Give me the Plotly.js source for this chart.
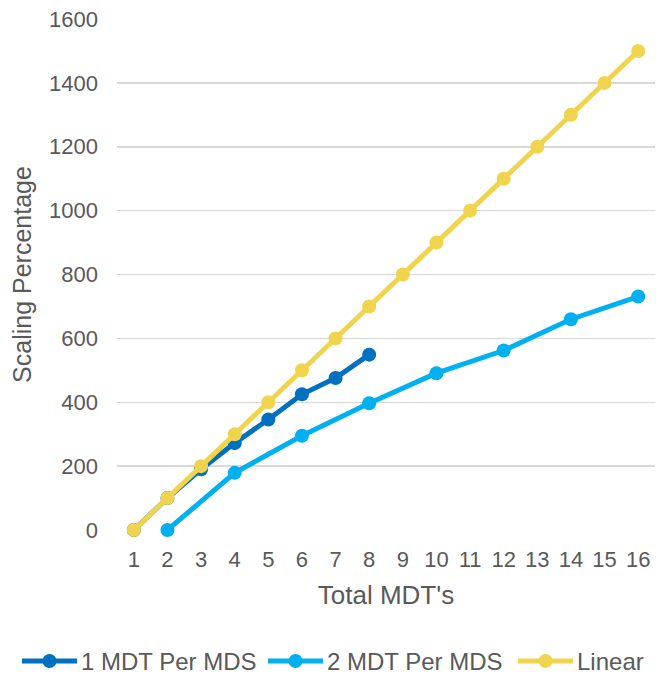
<!DOCTYPE html>
<html>
<head>
<meta charset="utf-8">
<script src="https://cdn.plot.ly/plotly-3.0.1.min.js"></script>
<style>
  html, body { margin: 0; padding: 0; background: #fff; }
  #chart { width: 659px; height: 675px; }
</style>
</head>
<body>
<div id="chart"></div>
<script>
// Total MDT counts on the x axis
const totalMdts = [1, 2, 3, 4, 5, 6, 7, 8, 9, 10, 11, 12, 13, 14, 15, 16];

// 1 MDT per MDS (measured up to 8 MDTs)
const oneMdtX = [1, 2, 3, 4, 5, 6, 7, 8];
const oneMdtY = [0, 100, 190, 272, 346, 425, 476, 549];

// 2 MDT per MDS (even MDT counts only)
const twoMdtX = [2, 4, 6, 8, 10, 12, 14, 16];
const twoMdtY = [0, 179, 295, 397, 491, 562, 660, 731];

// Ideal linear scaling
const linearY = [0, 100, 200, 300, 400, 500, 600, 700, 800, 900, 1000, 1100, 1200, 1300, 1400, 1500];

const yTicks = [0, 200, 400, 600, 800, 1000, 1200, 1400, 1600];

const seriesNames = ['1 MDT Per MDS', '2 MDT Per MDS', 'Linear'];
const seriesColors = ['#0070C0', '#00B0F0', '#F1D44E'];

const textColor = '#595959';
const font = 'Liberation Sans, Arial, sans-serif';

// Plot area in pixels (fixed margins)
const W = 659, H = 675;
const M = { l: 117, r: 4, t: 19, b: 145 };
const plotW = W - M.l - M.r;
const plotH = H - M.t - M.b;
const toPaperX = px => (px - M.l) / plotW;
const toPaperY = py => (H - M.b - py) / plotH;

function series(name, x, y, color) {
  return {
    type: 'scatter',
    mode: 'lines+markers',
    name: name,
    x: x,
    y: y,
    line: { color: color, width: 5 },
    marker: { color: color, size: 14 },
    cliponaxis: false,
    showlegend: false
  };
}

const data = [
  series(seriesNames[0], oneMdtX, oneMdtY, seriesColors[0]),
  series(seriesNames[1], twoMdtX, twoMdtY, seriesColors[1]),
  series(seriesNames[2], totalMdts, linearY, seriesColors[2])
];

// Legend row below the axis title: a line swatch with a dot, then the label
const legendY = toPaperY(661);
const legendStarts = [22, 268, 518];
const swatchLen = 55;
const shapes = [];
const annotations = [];
legendStarts.forEach((px, i) => {
  const c = seriesColors[i];
  shapes.push({
    type: 'line', xref: 'paper', yref: 'paper',
    x0: toPaperX(px), x1: toPaperX(px + swatchLen), y0: legendY, y1: legendY,
    line: { color: c, width: 5 }
  });
  shapes.push({
    type: 'circle', xref: 'paper', yref: 'paper',
    xsizemode: 'pixel', ysizemode: 'pixel',
    xanchor: toPaperX(px + swatchLen / 2), yanchor: legendY,
    x0: -7, x1: 7, y0: -7, y1: 7,
    fillcolor: c, line: { color: c, width: 0 }
  });
  annotations.push({
    xref: 'paper', yref: 'paper',
    x: toPaperX(px + swatchLen + 3), y: legendY,
    xanchor: 'left', yanchor: 'middle',
    text: seriesNames[i], showarrow: false,
    borderpad: 0,
    font: { size: 24, color: textColor }
  });
});

const layout = {
  width: W,
  height: H,
  margin: { l: M.l, r: M.r, t: M.t, b: M.b, autoexpand: false },
  paper_bgcolor: '#ffffff',
  plot_bgcolor: '#ffffff',
  font: { family: font, color: textColor, size: 22 },
  showlegend: false,
  shapes: shapes,
  annotations: annotations,
  xaxis: {
    range: [0.5, 16.5],
    tickmode: 'array',
    tickvals: totalMdts,
    ticktext: totalMdts.map(String),
    showgrid: false,
    zeroline: false,
    showline: false,
    ticks: '',
    automargin: false,
    ticklabelstandoff: 14,
    tickfont: { size: 22, color: textColor },
    title: { text: "Total MDT's", font: { size: 26, color: textColor }, standoff: 14 }
  },
  yaxis: {
    range: [0, 1600],
    tickmode: 'array',
    tickvals: yTicks,
    showgrid: true,
    gridcolor: '#d9d9d9',
    gridwidth: 1.5,
    zeroline: false,
    showline: false,
    ticks: '',
    ticklen: 0,
    automargin: false,
    ticklabelstandoff: 18,
    tickfont: { size: 22, color: textColor },
    title: { text: 'Scaling Percentage', font: { size: 25, color: textColor }, standoff: 10 }
  }
};

Plotly.newPlot('chart', data, layout, { displayModeBar: false, staticPlot: true });
</script>
</body>
</html>
